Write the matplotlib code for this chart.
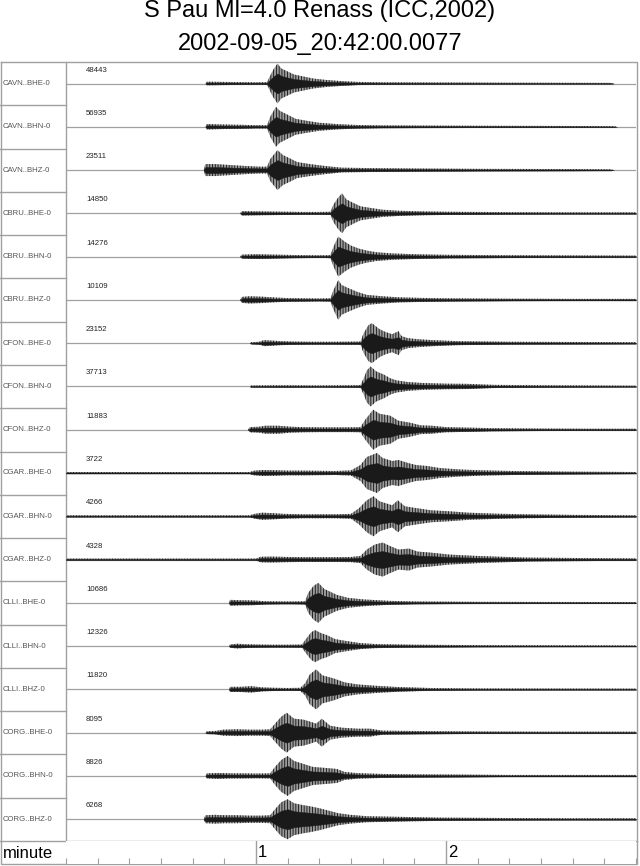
import matplotlib
matplotlib.use("Agg")
import matplotlib.pyplot as plt

plt.rcParams['font.family'] = ['Liberation Sans', 'DejaVu Sans']
plt.rcParams['hatch.linewidth'] = 0.6

# stations / channels, top to bottom
trace_names = [
    "CAVN..BHE-0", "CAVN..BHN-0", "CAVN..BHZ-0",
    "CBRU..BHE-0", "CBRU..BHN-0", "CBRU..BHZ-0",
    "CFON..BHE-0", "CFON..BHN-0", "CFON..BHZ-0",
    "CGAR..BHE-0", "CGAR..BHN-0", "CGAR..BHZ-0",
    "CLLI..BHE-0", "CLLI..BHN-0", "CLLI..BHZ-0",
    "CORG..BHE-0", "CORG..BHN-0", "CORG..BHZ-0",
]
max_counts = [48443, 56935, 23511, 14850, 14276, 10109,
              23152, 37713, 11883, 3722, 4266, 4328,
              10686, 12326, 11820, 8095, 8826, 6268]

# envelope of each trace: time (s) and amplitude (fraction of max)
env_t = [
    [44, 44.5, 50, 55, 60, 63.5, 64.5, 65.5, 66.8, 68, 70, 72, 75, 78, 82, 87, 92, 100, 120, 140, 160, 172, 173],
    [44, 44.5, 48, 55, 60, 63.5, 64.5, 66.3, 67.5, 70, 72.5, 76, 80, 86, 92, 100, 130, 160, 173, 174],
    [43.5, 44, 47, 52, 57, 61, 63.5, 64.5, 66.8, 68.5, 70.5, 73, 77, 82, 87, 95, 110, 130, 160, 172, 173],
    [55, 55.5, 60, 65, 70, 75, 80, 83.5, 84.5, 86, 87.2, 88.5, 91, 93, 97, 100, 105, 112, 120, 140, 160, 180],
    [55, 55.5, 60, 66, 72, 78, 82, 83.5, 84.5, 85.5, 86, 88, 90, 92.5, 95, 98, 103, 110, 120, 140, 160, 180],
    [55, 55.5, 58, 62, 66, 70, 75, 80, 83.5, 84.5, 86, 87, 89, 92, 95, 100, 105, 112, 120, 140, 160, 180],
    [58, 58.5, 61, 62.5, 65, 68, 72, 78, 83, 93, 94, 95.5, 96.6, 99, 101, 103, 105, 106, 108, 111, 116, 124, 140, 160, 180],
    [58, 58.5, 70, 80, 90, 93, 94, 95, 96.2, 98, 100.3, 102.5, 104.5, 108, 113, 120, 126.6, 135, 150, 165, 180],
    [57.5, 58, 61, 63, 67, 71, 75, 80, 90, 93, 94.5, 97, 99, 102.4, 105, 108.7, 112, 115.5, 120, 134, 150, 165, 180],
    [0, 58, 59.5, 62, 66, 70, 75, 80, 85, 90, 93, 95, 98.2, 100, 103, 105, 108, 110.5, 114, 118, 124, 130, 141, 158, 180],
    [0, 58, 59.5, 62, 66, 69, 75, 80, 85, 90, 92.5, 95, 97.1, 99, 101, 103, 104.8, 107, 111, 115.3, 121, 127, 136, 145, 160, 180],
    [0, 60, 61.5, 65, 70, 75, 80, 85, 90, 93, 95, 97.5, 100, 102, 105, 108.3, 111, 115, 121, 130, 145, 160, 180],
    [51.5, 51.8, 55, 59, 63, 68, 72, 75.5, 76.5, 78.2, 79.7, 81.5, 83.5, 85.5, 89, 94, 102, 110, 130, 150, 180],
    [51.5, 51.8, 54, 56, 60, 65, 70, 74.5, 76, 77.5, 78.7, 80.5, 82.4, 85, 88.7, 93, 98.2, 110, 130, 150, 180],
    [51.5, 51.8, 55, 58.5, 62, 66, 70, 74, 75.5, 77, 79, 81, 84.5, 88, 92, 98, 104.5, 115, 130, 150, 180],
    [44, 44.5, 47, 49.7, 54, 58, 62, 64.5, 66, 68, 69.7, 72, 75, 77.1, 79, 80.8, 83.4, 87, 92, 96, 100, 113, 130, 150, 180],
    [44, 44.5, 48, 52, 56, 60, 64.5, 66, 68, 70, 72, 75, 78, 82, 85.5, 88, 92, 100, 110, 123, 140, 160, 180],
    [43.5, 44, 47, 50, 54, 58, 62, 64.5, 66, 68, 70, 72, 75, 77, 80, 82.4, 86, 89.7, 95, 105, 118, 140, 160, 180],
]
env_a = [
    [0, 0.09, 0.08, 0.07, 0.06, 0.07, 0.4, 0.7, 1.0, 0.75, 0.6, 0.45, 0.35, 0.25, 0.18, 0.12, 0.08, 0.06, 0.05, 0.04, 0.035, 0.03, 0],
    [0, 0.14, 0.12, 0.1, 0.08, 0.08, 0.5, 1.0, 0.8, 0.6, 0.4, 0.3, 0.2, 0.13, 0.09, 0.07, 0.05, 0.04, 0.03, 0],
    [0, 0.3, 0.3, 0.25, 0.2, 0.17, 0.17, 0.55, 1.0, 0.75, 0.6, 0.4, 0.3, 0.2, 0.12, 0.1, 0.08, 0.06, 0.05, 0.04, 0],
    [0, 0.11, 0.1, 0.09, 0.08, 0.07, 0.07, 0.08, 0.45, 0.8, 1.0, 0.7, 0.5, 0.35, 0.25, 0.18, 0.13, 0.1, 0.08, 0.06, 0.05, 0.05],
    [0, 0.1, 0.12, 0.1, 0.08, 0.07, 0.07, 0.08, 0.5, 0.85, 1.0, 0.75, 0.55, 0.4, 0.3, 0.22, 0.16, 0.12, 0.09, 0.07, 0.06, 0.05],
    [0, 0.15, 0.18, 0.16, 0.12, 0.09, 0.08, 0.07, 0.08, 0.5, 1.0, 0.75, 0.6, 0.4, 0.25, 0.18, 0.13, 0.1, 0.08, 0.06, 0.05, 0.05],
    [0, 0.05, 0.07, 0.15, 0.13, 0.1, 0.08, 0.07, 0.07, 0.08, 0.5, 0.9, 1.0, 0.7, 0.55, 0.45, 0.6, 0.35, 0.25, 0.2, 0.15, 0.1, 0.07, 0.06, 0.05],
    [0, 0.05, 0.06, 0.05, 0.06, 0.07, 0.4, 0.8, 1.0, 0.75, 0.6, 0.4, 0.3, 0.22, 0.17, 0.14, 0.13, 0.08, 0.06, 0.05, 0.04],
    [0, 0.13, 0.15, 0.2, 0.2, 0.15, 0.13, 0.12, 0.12, 0.13, 0.5, 1.0, 0.8, 0.7, 0.45, 0.35, 0.22, 0.2, 0.13, 0.08, 0.06, 0.05, 0.05],
    [0.05, 0.05, 0.12, 0.15, 0.14, 0.12, 0.12, 0.11, 0.1, 0.13, 0.4, 0.8, 1.0, 0.75, 0.6, 0.65, 0.5, 0.4, 0.35, 0.25, 0.18, 0.14, 0.1, 0.07, 0.05],
    [0.05, 0.05, 0.12, 0.18, 0.15, 0.12, 0.1, 0.1, 0.1, 0.12, 0.4, 0.8, 1.0, 0.75, 0.65, 0.55, 0.8, 0.5, 0.4, 0.3, 0.25, 0.18, 0.13, 0.1, 0.07, 0.05],
    [0.05, 0.05, 0.14, 0.15, 0.13, 0.12, 0.12, 0.12, 0.13, 0.18, 0.5, 0.75, 0.85, 0.7, 0.5, 0.55, 0.4, 0.35, 0.25, 0.18, 0.1, 0.08, 0.06],
    [0, 0.15, 0.13, 0.12, 0.08, 0.07, 0.07, 0.08, 0.5, 0.85, 1.0, 0.7, 0.55, 0.4, 0.25, 0.17, 0.1, 0.07, 0.05, 0.045, 0.04],
    [0, 0.08, 0.12, 0.1, 0.08, 0.07, 0.07, 0.08, 0.4, 0.7, 0.8, 0.65, 0.55, 0.35, 0.25, 0.15, 0.1, 0.07, 0.05, 0.045, 0.04],
    [0, 0.13, 0.13, 0.16, 0.1, 0.08, 0.07, 0.08, 0.3, 0.75, 1.0, 0.7, 0.55, 0.35, 0.25, 0.18, 0.12, 0.07, 0.05, 0.045, 0.04],
    [0, 0.07, 0.08, 0.15, 0.17, 0.15, 0.15, 0.17, 0.45, 0.8, 1.0, 0.7, 0.65, 0.55, 0.45, 0.7, 0.35, 0.25, 0.2, 0.2, 0.1, 0.08, 0.06, 0.05, 0.05],
    [0, 0.13, 0.15, 0.13, 0.13, 0.12, 0.13, 0.45, 0.8, 1.0, 0.75, 0.6, 0.45, 0.4, 0.35, 0.2, 0.14, 0.1, 0.08, 0.07, 0.05, 0.05, 0.05],
    [0, 0.2, 0.22, 0.2, 0.2, 0.18, 0.18, 0.2, 0.5, 0.85, 1.0, 0.8, 0.7, 0.65, 0.55, 0.45, 0.3, 0.22, 0.15, 0.12, 0.08, 0.06, 0.05, 0.05],
]
minute_ticks = [60, 120]
minute_labels = ["1", "2"]

title1 = "S Pau Ml=4.0 Renass (ICC,2002)"
title2 = "2002-09-05_20:42:00.0077"

W, H = 640, 866
GRID = "#a0a0a0"
fig = plt.figure(figsize=(W / 100, H / 100), dpi=100)

def fx(px):
    return px / W

def fy(py):
    return 1 - py / H

top, bot, lcol, right = 62, 841, 66, 636
n = len(trace_names)
row_h = (bot - top) / n

# frame (pixel coordinates)
fr = fig.add_axes([0, 0, 1, 1])
fr.set_xlim(0, W)
fr.set_ylim(H, 0)
fr.axis("off")
fr.plot([0.5, 637, 637, 0.5, 0.5], [top, top, 864, 864, top], color=GRID, lw=1)
fr.plot([lcol, lcol], [top, bot], color=GRID, lw=1)
fr.plot([0, 637], [bot, bot], color=GRID, lw=1)
for i in range(n):
    y0 = top + i * row_h
    if i > 0:
        fr.plot([0, lcol], [y0, y0], color=GRID, lw=1)
    fr.text(3, y0 + 21.5, trace_names[i], fontsize=5.6, color="#555555", va="center", ha="left")
    fr.text(86, y0 + 8, str(max_counts[i]), fontsize=5.6, color="#222222", va="center", ha="left")

fig.text(0.5, fy(17), title1, fontsize=17, ha="center", va="baseline")
fig.text(0.5, fy(50), title2, fontsize=17, ha="center", va="baseline")

# traces
ax = fig.add_axes([fx(lcol), fy(bot), fx(right - lcol), (bot - top) / H])
ax.set_xlim(0, 180)
ax.set_ylim(n, 0)
ax.axis("off")
amp = 20 / row_h
for i in range(n):
    base = i + 21.5 / row_h
    ax.axhline(base, color=GRID, lw=0.9, zorder=1)
    lo = [base - a * amp for a in env_a[i]]
    hi = [base + a * amp for a in env_a[i]]
    ax.fill_between(env_t[i], lo, hi, facecolor="#9a9a9a", edgecolor="#111111",
                    hatch="||||||", lw=0, zorder=2)
    ax.fill_between(env_t[i], [base - a * amp * 0.5 for a in env_a[i]],
                    [base + a * amp * 0.5 for a in env_a[i]],
                    color="#1a1a1a", lw=0.3, zorder=3)

# minute axis
tx = fig.add_axes([fx(lcol), fy(864), fx(right - lcol), 23 / H])
tx.set_xlim(0, 180)
tx.set_ylim(0, 1)
for s in tx.spines.values():
    s.set_visible(False)
tx.set_yticks([])
tx.set_xticks(range(0, 181, 10))
tx.tick_params(axis="x", direction="in", length=4, color=GRID, labelbottom=False)
for t, lab in zip(minute_ticks, minute_labels):
    tx.axvline(t, color=GRID, lw=1)
    tx.text(t + 0.6, 0.5, lab, fontsize=12, va="center", ha="left")
fr.text(3, 853, "minute", fontsize=12, va="center", ha="left")

fig.savefig("out.png", dpi=100)
